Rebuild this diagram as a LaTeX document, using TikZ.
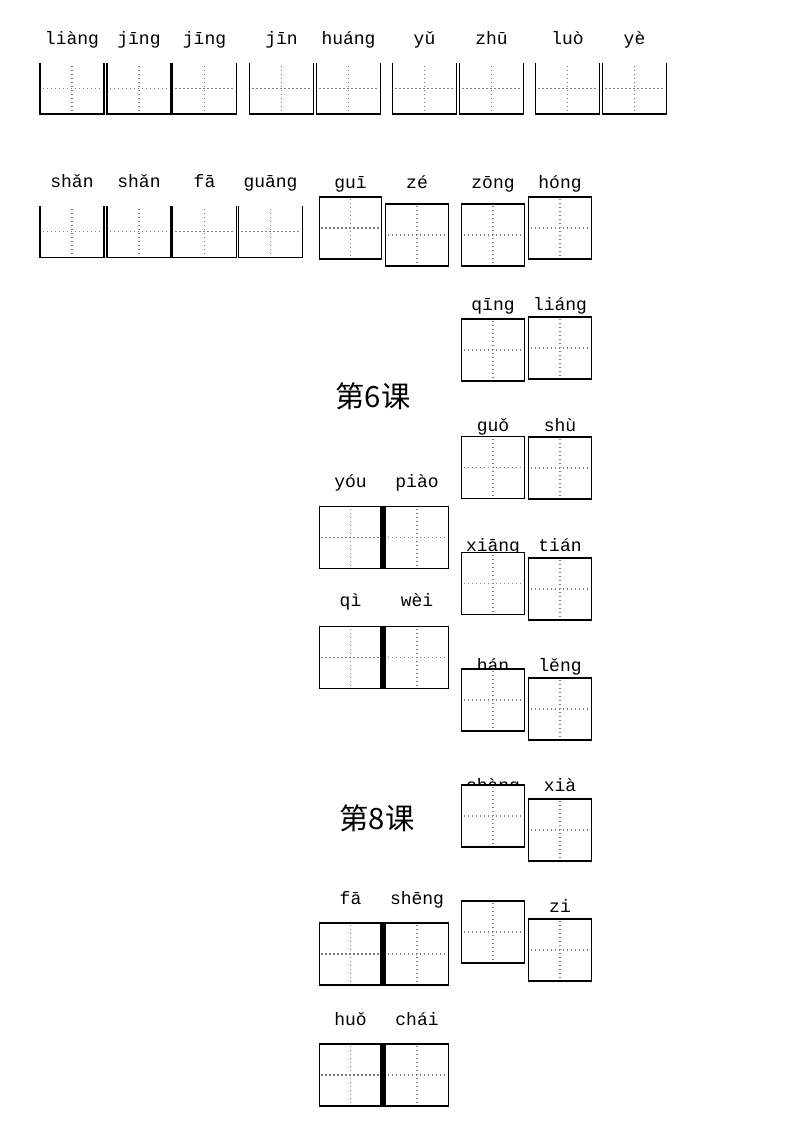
\documentclass[tikz,border=0pt]{standalone}
\usepackage{fontspec}
\setmonofont{Liberation Mono}
\newfontfamily\cjk{Noto Sans CJK SC}
\begin{document}
\begin{tikzpicture}[x=0.75pt,y=-0.75pt,
 py/.style={font=\ttfamily\fontsize{13.5}{14}\selectfont,inner sep=0pt,anchor=base},
 ttl/.style={font=\cjk\fontsize{22}{24}\selectfont,inner sep=0pt},
 cell/.style={minimum width=47pt,minimum height=46.5pt,inner sep=0pt,fill=white,draw=black,line width=0.9pt},
 opencell/.style={minimum width=47.5pt,minimum height=38pt,inner sep=0pt,fill=white},
 guide/.style={gray,dotted,line width=1pt}]
\useasboundingbox (0,0) rectangle (793,1123);
\newcommand{\cross}[1]{\draw[guide] ([yshift=-2pt]#1.north)--([yshift=2pt]#1.south);\draw[guide] ([xshift=2pt]#1.west)--([xshift=-2pt]#1.east);}
\newcommand{\ucell}[4]{% name, label, cx, cy(center)
 \node[py] (#1t) at (#3,#4-44) {#2};
 \node[opencell] (#1) at (#3,#4) {};
 \draw[line width=0.9pt] (#1.north west)--(#1.south west)--(#1.south east)--(#1.north east);
 \cross{#1}}
\newcommand{\fcell}[5]{% name,label,cx,cy,labely
 \node[py] (#1t) at (#3,#5) {#2};
 \node[cell] (#1) at (#3,#4) {};
 \cross{#1}}
% row 1
\ucell{a1}{liàng}{72}{88.5}
\ucell{a2}{jīng}{139}{88.5}
\ucell{a3}{jīng}{204.5}{88.5}
\ucell{a4}{jīn}{281.5}{88.5}
\ucell{a5}{huáng}{348.5}{88.5}
\ucell{a6}{yǔ}{424.5}{88.5}
\ucell{a7}{zhū}{491.5}{88.5}
\ucell{a8}{luò}{567.5}{88.5}
\ucell{a9}{yè}{634.5}{88.5}
% row 2
\ucell{b1}{shǎn}{72}{231.5}
\ucell{b2}{shǎn}{139}{231.5}
\ucell{b3}{fā}{204.5}{231.5}
\ucell{b4}{guāng}{270.5}{231.5}
\fcell{b5}{guī}{350.5}{228}{189}
\fcell{b6}{zé}{417}{235}{189}
\fcell{b7}{zōng}{493}{235}{189}
\fcell{b8}{hóng}{560}{228}{189}
% right column
\fcell{c1}{qīng}{493}{350}{310}
\fcell{c2}{liáng}{560}{348}{310}
\fcell{c3}{guǒ}{493}{467.5}{431}
\fcell{c4}{shù}{560}{468}{431}
\fcell{c5}{xiāng}{493}{583.5}{551}
\fcell{c6}{tián}{560}{589}{551}
\fcell{c7}{hán}{493}{700}{671}
\fcell{c8}{lěng}{560}{709}{671}
\fcell{c9}{chàng}{493}{816}{791}
\fcell{c10}{xià}{560}{830}{791}
\fcell{c11}{-}{493}{932}{911}
\fcell{c12}{zi}{560}{950}{912}
% left pairs
\fcell{d1}{yóu}{350.5}{537.5}{487}
\fcell{d2}{piào}{417}{537.5}{487}
\fcell{e1}{qì}{350.5}{657.5}{606}
\fcell{e2}{wèi}{417}{657.5}{606}
\fcell{f1}{fā}{350.5}{954}{904}
\fcell{f2}{shēng}{417}{954}{904}
\fcell{g1}{huǒ}{350.5}{1075}{1025}
\fcell{g2}{chái}{417}{1075}{1025}
\foreach \p in {d,e,f,g}{\draw[line width=3.5pt] (\p1.north east)--(\p1.south east);}
\node[ttl] (t6) at (373,396) {第6课};
\node[ttl] (t8) at (377,818) {第8课};
\end{tikzpicture}
\end{document}
